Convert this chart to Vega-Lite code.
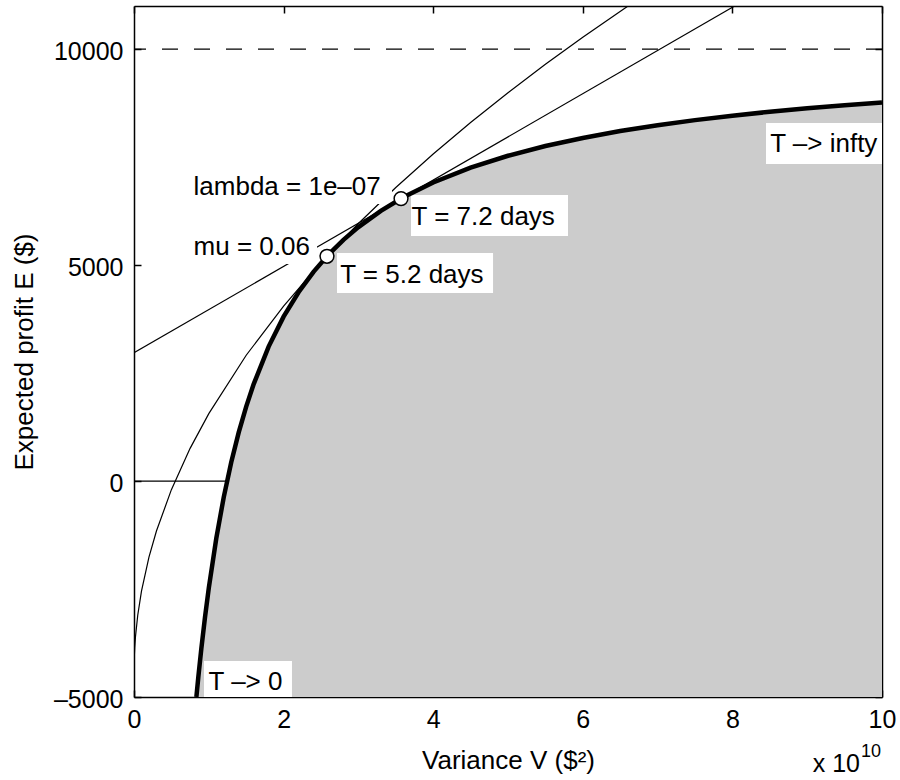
{
  "$schema": "https://vega.github.io/schema/vega-lite/v6.json",
  "width": 748,
  "height": 691,
  "autosize": {"type": "none"},
  "padding": {"left": 134, "top": 6, "right": 18, "bottom": 83},
  "background": "white",
  "datasets": {
    "frontier": [
      {"V": 0.834, "E": -5000}, {"V": 0.86, "E": -4539}, {"V": 0.9, "E": -3883}, {"V": 0.95, "E": -3141},
      {"V": 1.0, "E": -2475}, {"V": 1.1, "E": -1326}, {"V": 1.2, "E": -371}, {"V": 1.3, "E": 435},
      {"V": 1.4, "E": 1126}, {"V": 1.5, "E": 1723}, {"V": 1.6, "E": 2245}, {"V": 1.8, "E": 3113},
      {"V": 2.0, "E": 3807}, {"V": 2.2, "E": 4373}, {"V": 2.4, "E": 4845}, {"V": 2.6, "E": 5244},
      {"V": 2.8, "E": 5585}, {"V": 3.0, "E": 5881}, {"V": 3.3, "E": 6257}, {"V": 3.6, "E": 6570},
      {"V": 4.0, "E": 6914}, {"V": 4.5, "E": 7258}, {"V": 5.0, "E": 7533}, {"V": 5.5, "E": 7758},
      {"V": 6.0, "E": 7945}, {"V": 6.5, "E": 8104}, {"V": 7.0, "E": 8239}, {"V": 7.5, "E": 8357},
      {"V": 8.0, "E": 8460}, {"V": 8.5, "E": 8551}, {"V": 9.0, "E": 8631}, {"V": 9.5, "E": 8703},
      {"V": 10.0, "E": 8768}
    ],
    "curve": [
      {"V": 0, "E": -4450}, {"V": 0.005, "E": -4025}, {"V": 0.01, "E": -3849}, {"V": 0.02, "E": -3600},
      {"V": 0.05, "E": -3106}, {"V": 0.1, "E": -2549}, {"V": 0.2, "E": -1761}, {"V": 0.3, "E": -1157},
      {"V": 0.5, "E": -199}, {"V": 0.75, "E": 757}, {"V": 1.0, "E": 1562}, {"V": 1.5, "E": 2913},
      {"V": 2.0, "E": 4052}, {"V": 2.5, "E": 5056}, {"V": 3.0, "E": 5963}, {"V": 3.5, "E": 6797},
      {"V": 4.0, "E": 7574}, {"V": 4.5, "E": 8303}, {"V": 5.0, "E": 8993}, {"V": 5.5, "E": 9649},
      {"V": 6.0, "E": 10276}, {"V": 6.605, "E": 11000}
    ],
    "tangent": [{"V": 0, "E": 2971}, {"V": 8.03, "E": 11000}],
    "zeroline": [{"V": 0, "E": 0}, {"V": 1.244, "E": 0}],
    "boxes": [
      {"x1": 3.703, "x2": 5.802, "y1": 5674, "y2": 6624},
      {"x1": 2.714, "x2": 4.8, "y1": 4355, "y2": 5281},
      {"x1": 8.449, "x2": 10, "y1": 7342, "y2": 8291},
      {"x1": 0.936, "x2": 2.112, "y1": -5000, "y2": -4166},
      {"x1": 0.749, "x2": 3.449, "y1": 6415, "y2": 7203},
      {"x1": 0.749, "x2": 2.447, "y1": 5026, "y2": 5860}
    ],
    "markers": [{"V": 3.57, "E": 6541}, {"V": 2.58, "E": 5205}],
    "labels": [
      {"V": 3.71, "E": 5929, "label": "T = 7.2 days"},
      {"V": 2.757, "E": 4579, "label": "T = 5.2 days"},
      {"V": 8.505, "E": 7626, "label": "T –> infty"},
      {"V": 0.996, "E": -4838, "label": "T –> 0"},
      {"V": 0.796, "E": 6624, "label": "lambda = 1e–07"},
      {"V": 0.796, "E": 5234, "label": "mu = 0.06"}
    ],
    "dashed": [{"E": 10000}],
    "exponent": [{"V": 10, "E": -5000}]
  },
  "resolve": {"axis": {"x": "independent", "y": "independent"}},
  "layer": [
    {
      "data": {"name": "frontier"},
      "mark": {"type": "area", "color": "#cccccc"},
      "encoding": {
        "x": {"field": "V", "type": "quantitative",
              "scale": {"domain": [0, 10], "nice": false, "zero": false},
              "axis": {"orient": "bottom", "values": [0, 2, 4, 6, 8, 10], "labelFlush": false,
                       "labelBaseline": "alphabetic", "labelPadding": 37,
                       "title": "Variance V ($²)", "titleBaseline": "alphabetic", "titleY": 71}},
        "y": {"field": "E", "type": "quantitative",
              "scale": {"domain": [-5000, 11000], "nice": false, "zero": false},
              "axis": {"orient": "left", "values": [-5000, 0, 5000, 10000],
                       "labelExpr": "datum.value < 0 ? '–' + format(-datum.value, 'd') : format(datum.value, 'd')",
                       "labelBaseline": "alphabetic", "labelOffset": 10, "labelPadding": 18,
                       "title": "Expected profit E ($)", "titleBaseline": "alphabetic", "titleX": -102}},
        "y2": {"datum": -5000}
      }
    },
    {
      "data": {"name": "curve"},
      "mark": {"type": "line", "color": "black", "strokeWidth": 1.2, "clip": true},
      "encoding": {
        "x": {"field": "V", "type": "quantitative",
              "axis": {"orient": "top", "values": [0, 2, 4, 6, 8, 10], "labels": false, "title": null}},
        "y": {"field": "E", "type": "quantitative",
              "axis": {"orient": "right", "values": [-5000, 0, 5000, 10000], "labels": false, "title": null}}
      }
    },
    {
      "data": {"name": "tangent"},
      "mark": {"type": "line", "color": "black", "strokeWidth": 1.2, "clip": true},
      "encoding": {
        "x": {"field": "V", "type": "quantitative", "axis": null},
        "y": {"field": "E", "type": "quantitative", "axis": null}
      }
    },
    {
      "data": {"name": "zeroline"},
      "mark": {"type": "line", "color": "black", "strokeWidth": 1.2},
      "encoding": {
        "x": {"field": "V", "type": "quantitative", "axis": null},
        "y": {"field": "E", "type": "quantitative", "axis": null}
      }
    },
    {
      "data": {"name": "dashed"},
      "mark": {"type": "rule", "color": "black", "strokeWidth": 1.2, "strokeDash": [16, 16]},
      "encoding": {"y": {"field": "E", "type": "quantitative", "axis": null}}
    },
    {
      "data": {"name": "boxes"},
      "mark": {"type": "rect", "color": "white"},
      "encoding": {
        "x": {"field": "x1", "type": "quantitative", "axis": null},
        "x2": {"field": "x2"},
        "y": {"field": "y1", "type": "quantitative", "axis": null},
        "y2": {"field": "y2"}
      }
    },
    {
      "data": {"name": "frontier"},
      "mark": {"type": "line", "color": "black", "strokeWidth": 4.5, "strokeCap": "butt"},
      "encoding": {
        "x": {"field": "V", "type": "quantitative", "axis": null},
        "y": {"field": "E", "type": "quantitative", "axis": null}
      }
    },
    {
      "data": {"name": "markers"},
      "mark": {"type": "point", "shape": "circle", "filled": true, "fill": "white", "stroke": "black", "strokeWidth": 1.5, "size": 190, "opacity": 1},
      "encoding": {
        "x": {"field": "V", "type": "quantitative", "axis": null},
        "y": {"field": "E", "type": "quantitative", "axis": null}
      }
    },
    {
      "data": {"name": "labels"},
      "mark": {"type": "text", "align": "left", "baseline": "alphabetic", "fontSize": 26, "font": "Liberation Sans", "color": "black"},
      "encoding": {
        "x": {"field": "V", "type": "quantitative", "axis": null},
        "y": {"field": "E", "type": "quantitative", "axis": null},
        "text": {"field": "label"}
      }
    },
    {
      "data": {"name": "exponent"},
      "mark": {"type": "text", "align": "right", "baseline": "alphabetic", "fontSize": 25, "font": "Liberation Sans", "color": "black", "dx": -22, "dy": 75},
      "encoding": {
        "x": {"field": "V", "type": "quantitative", "axis": null},
        "y": {"field": "E", "type": "quantitative", "axis": null},
        "text": {"value": "x 10"}
      }
    },
    {
      "data": {"name": "exponent"},
      "mark": {"type": "text", "align": "left", "baseline": "alphabetic", "fontSize": 18, "font": "Liberation Sans", "color": "black", "dx": -21, "dy": 60},
      "encoding": {
        "x": {"field": "V", "type": "quantitative", "axis": null},
        "y": {"field": "E", "type": "quantitative", "axis": null},
        "text": {"value": "10"}
      }
    }
  ],
  "config": {
    "view": {"stroke": null},
    "font": "Liberation Sans",
    "axis": {
      "grid": false,
      "domainColor": "black", "domainWidth": 1.5,
      "tickColor": "black", "tickWidth": 1.5, "tickSize": -7,
      "labelColor": "black", "labelFont": "Liberation Sans", "labelFontSize": 25,
      "titleColor": "black", "titleFont": "Liberation Sans", "titleFontSize": 26, "titleFontWeight": "normal"
    }
  }
}
